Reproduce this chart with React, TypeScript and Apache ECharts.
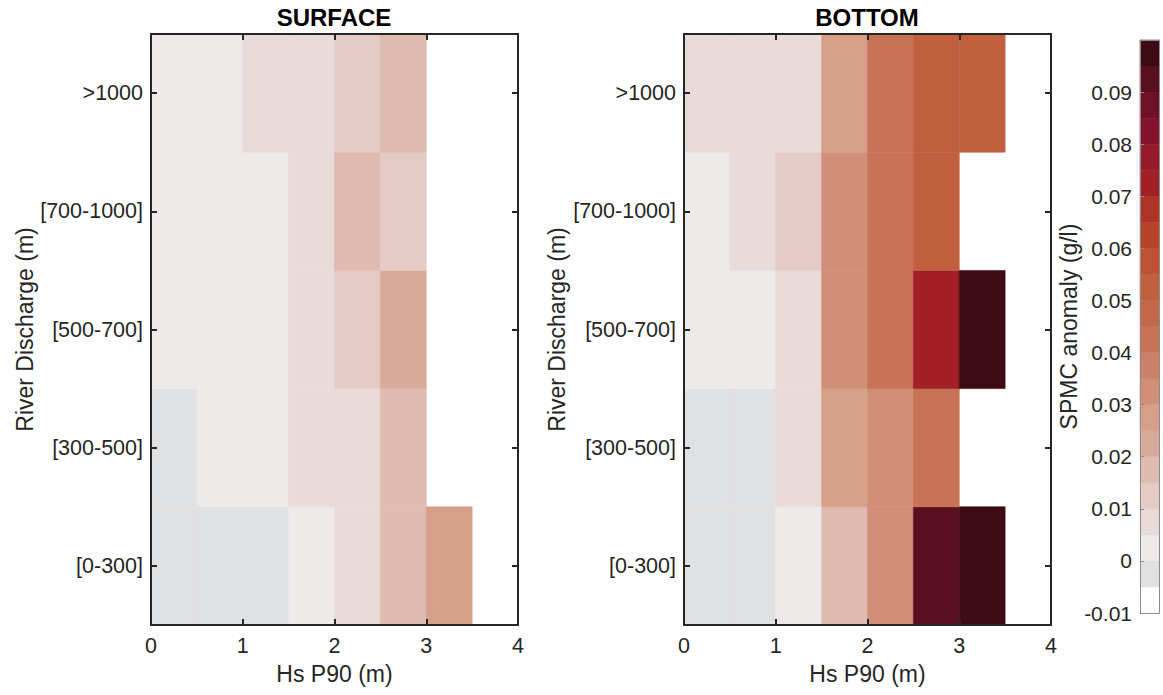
import React, { useEffect, useRef } from "react";
import * as echarts from "echarts";

// ---- data ----
const dischargeCats = ["[0-300]", "[300-500]", "[500-700]", "[700-1000]", ">1000"];
const hsCenters = [0.25, 0.75, 1.25, 1.75, 2.25, 2.75, 3.25, 3.75];

// SPMC anomaly (g/l), one array per discharge class, values per Hs bin (null = no data)
const surface_0_300 = [-0.002, -0.003, -0.002, 0.003, 0.007, 0.017, 0.027, null];
const surface_300_500 = [-0.002, 0.002, 0.003, 0.007, 0.008, 0.018, null, null];
const surface_500_700 = [0.002, 0.003, 0.004, 0.008, 0.013, 0.022, null, null];
const surface_700_1000 = [0.002, 0.002, 0.003, 0.009, 0.017, 0.012, null, null];
const surface_gt1000 = [0.003, 0.004, 0.007, 0.008, 0.012, 0.016, null, null];

const bottom_0_300 = [-0.002, -0.003, 0.003, 0.017, 0.032, 0.092, 0.098, null];
const bottom_300_500 = [-0.002, -0.003, 0.008, 0.028, 0.033, 0.043, null, null];
const bottom_500_700 = [0.002, 0.003, 0.009, 0.034, 0.043, 0.072, 0.099, null];
const bottom_700_1000 = [0.003, 0.008, 0.013, 0.033, 0.042, 0.052, null, null];
const bottom_gt1000 = [0.007, 0.008, 0.009, 0.027, 0.042, 0.052, 0.053, null];

const surfaceRows = [surface_0_300, surface_300_500, surface_500_700, surface_700_1000, surface_gt1000];
const bottomRows = [bottom_0_300, bottom_300_500, bottom_500_700, bottom_700_1000, bottom_gt1000];

// colour bar
const cbEdges = [
  -0.01, -0.005, 0, 0.005, 0.01, 0.015, 0.02, 0.025, 0.03, 0.035, 0.04, 0.045,
  0.05, 0.055, 0.06, 0.065, 0.07, 0.075, 0.08, 0.085, 0.09, 0.095, 0.1,
];
const cbColors = [
  "#ffffff", "#e0e1e3", "#eeeaea", "#e8dbd9", "#e5cbc5", "#dfbbb1", "#d9ab9b",
  "#d59f8a", "#d28f78", "#cc8068", "#c87256", "#c4684b", "#c1603f", "#bd5035",
  "#b8432b", "#ad3427", "#a21f27", "#951a2a", "#84122c", "#6f1029", "#5a0e22",
  "#3e0a15",
];
const cbTicks = [-0.01, 0, 0.01, 0.02, 0.03, 0.04, 0.05, 0.06, 0.07, 0.08, 0.09];

function colorOf(v: number): string {
  for (let i = 0; i < cbColors.length; i++) {
    if (v < cbEdges[i + 1]) return cbColors[i];
  }
  return cbColors[cbColors.length - 1];
}

function buildCells(rows: (number | null)[][]) {
  const out: number[][] = [];
  rows.forEach((row, yi) => {
    row.forEach((v, xi) => {
      if (v !== null) out.push([hsCenters[xi], yi, v]);
    });
  });
  return out;
}

const FONT = "Liberation Sans, Arial, Helvetica, sans-serif";
const TXT = "#262626";
const TICK_FS = 21.5;
const NAME_FS = 23;

export default function App() {
  const ref = useRef<HTMLDivElement>(null);
  useEffect(() => {
    document.body.style.margin = "0";
    if (!ref.current) return;
    const chart = echarts.init(ref.current, undefined, { renderer: "svg" });

    const cellRender = (params: any, api: any) => {
      const x = api.value(0);
      const y = api.value(1);
      const v = api.value(2);
      const p0 = api.coord([x - 0.25, y]);
      const p1 = api.coord([x + 0.25, y]);
      const h = api.size([0, 1])[1];
      const c = colorOf(v);
      return {
        type: "rect",
        shape: { x: p0[0], y: p0[1] - h / 2, width: p1[0] - p0[0], height: h },
        style: { fill: c, stroke: c, lineWidth: 0.6 },
      };
    };

    const cbData = cbColors.map((_, i) => [cbEdges[i], cbEdges[i + 1], i]);
    const cbRender = (params: any, api: any) => {
      const lo = api.value(0);
      const hi = api.value(1);
      const i = api.value(2);
      const p0 = api.coord([0, hi]);
      const p1 = api.coord([1, lo]);
      return {
        type: "rect",
        shape: { x: p0[0], y: p0[1], width: p1[0] - p0[0], height: p1[1] - p0[1] },
        style: { fill: cbColors[i], stroke: cbColors[i], lineWidth: 0.5 },
      };
    };

    const boxLine = { show: true, onZero: false, lineStyle: { color: TXT, width: 2 } };
    const cbLine = { show: true, onZero: false, lineStyle: { color: "#8c8c8c", width: 1 } };

    const hsAxis = (grid: number, pos: "bottom" | "top") => ({
      type: "value",
      gridIndex: grid,
      position: pos,
      min: 0,
      max: 4,
      interval: 1,
      z: 5,
      axisLine: boxLine,
      axisTick: { show: true, inside: true, length: 6, lineStyle: { color: TXT, width: 2 } },
      axisLabel: {
        show: pos === "bottom",
        margin: 10,
        color: TXT,
        fontSize: TICK_FS,
        fontFamily: FONT,
      },
      splitLine: { show: false },
      name: pos === "bottom" ? "Hs P90 (m)" : "",
      nameLocation: "middle",
      nameGap: 37,
      nameTextStyle: { color: TXT, fontSize: NAME_FS, fontFamily: FONT },
    });

    const catAxis = (grid: number, pos: "left" | "right", gap: number) => ({
      type: "category",
      gridIndex: grid,
      position: pos,
      data: dischargeCats,
      z: 5,
      axisLine: boxLine,
      axisTick: {
        show: true,
        inside: true,
        alignWithLabel: true,
        length: 6,
        lineStyle: { color: TXT, width: 2 },
      },
      axisLabel: {
        show: pos === "left",
        margin: 8,
        color: TXT,
        fontSize: TICK_FS,
        fontFamily: FONT,
      },
      splitLine: { show: false },
      name: pos === "left" ? "River Discharge (m)" : "",
      nameLocation: "middle",
      nameGap: gap,
      nameTextStyle: { color: TXT, fontSize: NAME_FS, fontFamily: FONT },
    });

    const cbX = (pos: "bottom" | "top") => ({
      type: "value",
      gridIndex: 2,
      position: pos,
      min: 0,
      max: 1,
      z: 5,
      axisLine: cbLine,
      axisTick: { show: false },
      axisLabel: { show: false },
      splitLine: { show: false },
    });

    const option: any = {
      animation: false,
      backgroundColor: "#ffffff",
      textStyle: { fontFamily: FONT },
      grid: [
        { left: 151, top: 34, width: 367, height: 591 },
        { left: 684, top: 34, width: 367, height: 591 },
        { left: 1140, top: 40, width: 19, height: 573 },
      ],
      xAxis: [hsAxis(0, "bottom"), hsAxis(0, "top"), hsAxis(1, "bottom"), hsAxis(1, "top"), cbX("bottom"), cbX("top")],
      yAxis: [
        catAxis(0, "left", 113),
        catAxis(0, "right", 10),
        catAxis(1, "left", 116),
        catAxis(1, "right", 10),
        {
          type: "value",
          gridIndex: 2,
          position: "left",
          min: -0.01,
          max: 0.1,
          interval: 0.01,
          z: 5,
          axisLine: cbLine,
          axisTick: { show: true, inside: true, length: 4, lineStyle: { color: "#8c8c8c" } },
          axisLabel: {
            margin: 8,
            color: TXT,
            fontSize: 21,
            fontFamily: FONT,
            showMaxLabel: false,
            formatter: (v: number) => {
              const r = Math.round(v * 100) / 100;
              return cbTicks.indexOf(r) >= 0 ? String(r) : "";
            },
          },
          splitLine: { show: false },
          name: "SPMC anomaly (g/l)",
          nameLocation: "middle",
          nameGap: 56,
          nameTextStyle: { color: TXT, fontSize: NAME_FS, fontFamily: FONT },
        },
        {
          type: "value",
          gridIndex: 2,
          position: "right",
          min: -0.01,
          max: 0.1,
          z: 5,
          axisLine: cbLine,
          axisTick: { show: false },
          axisLabel: { show: false },
          splitLine: { show: false },
        },
      ],
      graphic: [
        {
          type: "text",
          x: 334,
          y: 17,
          style: {
            text: "SURFACE",
            fill: "#000",
            font: `bold 24px ${FONT}`,
            textAlign: "center",
            textVerticalAlign: "middle",
          },
        },
        {
          type: "text",
          x: 867,
          y: 17,
          style: {
            text: "BOTTOM",
            fill: "#000",
            font: `bold 24px ${FONT}`,
            textAlign: "center",
            textVerticalAlign: "middle",
          },
        },
      ],
      series: [
        {
          type: "custom",
          name: "SURFACE",
          xAxisIndex: 0,
          yAxisIndex: 0,
          renderItem: cellRender,
          data: buildCells(surfaceRows),
          z: 2,
        },
        {
          type: "custom",
          name: "BOTTOM",
          xAxisIndex: 2,
          yAxisIndex: 2,
          renderItem: cellRender,
          data: buildCells(bottomRows),
          z: 2,
        },
        {
          type: "custom",
          name: "colorbar",
          xAxisIndex: 4,
          yAxisIndex: 4,
          renderItem: cbRender,
          data: cbData,
          z: 2,
        },
      ],
    };
    chart.setOption(option);
    return () => chart.dispose();
  }, []);
  return <div ref={ref} style={{ width: 1163, height: 695 }} />;
}
